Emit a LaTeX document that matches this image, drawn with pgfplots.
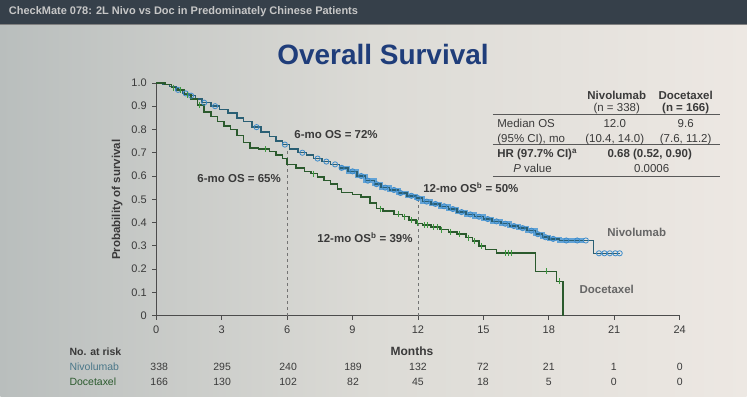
\documentclass[border=0pt]{standalone}
\usepackage{pgfplots}
\pgfplotsset{compat=1.18}
\usepackage{fontspec}
\setmainfont{Liberation Sans}
\definecolor{txt}{HTML}{3A3A3A}
\definecolor{nivo}{HTML}{2A5F74}
\definecolor{nivoc}{HTML}{3B8BCB}
\definecolor{nivob}{HTML}{4E9AD6}
\definecolor{doce}{HTML}{2B5A2D}
\definecolor{docem}{HTML}{3C9A3E}
\definecolor{titleblue}{HTML}{1F3D7A}
\definecolor{barc}{HTML}{36404A}
\definecolor{bgL}{HTML}{B9BEBD}
\definecolor{bgM}{HTML}{DCDBD6}
\definecolor{bgR}{HTML}{EDE8E3}
\newcommand{\fs}[1]{\fontsize{#1}{#1}\selectfont}
\begin{document}
\begin{tikzpicture}[x=1pt,y=1pt]
% background
\shade[left color=bgL, right color=bgR, middle color=bgM] (0,0) rectangle (747,373);
\fill[barc] (0,373) rectangle (747,397);
\draw[black!50, line width=0.8pt] (0,373) -- (747,373);
\node[anchor=west, text=black!22!white, font=\fs{11}\bfseries] at (5,385) {CheckMate 078: 2L Nivo vs Doc in Predominately Chinese Patients};
\node[text=titleblue, font=\fs{28}\bfseries] at (383,342) {Overall Survival};

\begin{axis}[at={(156pt,81pt)}, anchor=origin, scale only axis, width=524pt, height=233pt,
  xmin=0, xmax=24, ymin=0, ymax=1, clip=false,
  axis lines=left, axis line style={-, line width=1.1pt, color=black!70},
  xtick={0,3,6,9,12,15,18,21,24}, xticklabels={0,3,6,9,12,15,18,21,24},
  ytick={0,0.1,0.2,0.3,0.4,0.5,0.6,0.7,0.8,0.9,1.0},
  yticklabels={0,0.1,0.2,0.3,0.4,0.5,0.6,0.7,0.8,0.9,1.0},
  tick align=outside, major tick length=4pt, tick style={black!70, line width=0.8pt},
  tick label style={font=\fs{11}, text=txt},
  xticklabel style={yshift=-3pt},
  yticklabel style={xshift=-2pt},
]
% dashed reference lines
\addplot[dashed, black!55, line width=0.7pt] coordinates {(6,0) (6,0.72)};
\addplot[dashed, black!55, line width=0.7pt] coordinates {(12,0) (12,0.50)};
% Nivolumab band
\addplot[const plot, nivob, line width=4.5pt, opacity=0.85, restrict x to domain=8.2:19.8] table {
x y
8.0 0.65
8.4 0.635
8.8 0.62
9.2 0.60
9.6 0.58
10.0 0.565
10.3 0.55
10.7 0.54
11.1 0.527
11.5 0.515
11.9 0.505
12.2 0.49
12.6 0.48
13.0 0.47
13.4 0.458
13.8 0.445
14.2 0.435
14.6 0.425
15.0 0.415
15.4 0.405
15.8 0.395
16.2 0.385
16.6 0.376
17.0 0.365
17.4 0.35
17.7 0.337
18.0 0.33
18.5 0.323
19.6 0.323
};
% Nivolumab
\addplot[const plot, nivo, line width=1.5pt] table {
x y
0 1.00
0.3 0.994
0.6 0.985
0.9 0.97
1.2 0.955
1.5 0.945
1.8 0.93
2.1 0.915
2.5 0.90
2.9 0.885
3.3 0.87
3.7 0.85
4.0 0.835
4.4 0.81
4.8 0.79
5.2 0.77
5.5 0.75
5.8 0.735
6.1 0.715
6.5 0.70
6.9 0.69
7.2 0.675
7.6 0.662
8.0 0.65
8.4 0.635
8.8 0.62
9.2 0.60
9.6 0.58
10.0 0.565
10.3 0.55
10.7 0.54
11.1 0.527
11.5 0.515
11.9 0.505
12.2 0.49
12.6 0.48
13.0 0.47
13.4 0.458
13.8 0.445
14.2 0.435
14.6 0.425
15.0 0.415
15.4 0.405
15.8 0.395
16.2 0.385
16.6 0.376
17.0 0.365
17.4 0.35
17.7 0.337
18.0 0.33
18.5 0.323
20.05 0.268
21.25 0.268
};
\addplot[only marks, mark=o, mark size=2.6pt, nivoc, mark options={line width=0.8pt}] table {
x y
1.0 0.97
1.35 0.955
1.6 0.945
2.2 0.915
2.7 0.90
4.6 0.81
5.9 0.735
6.7 0.70
7.4 0.675
7.8 0.662
8.2 0.65
8.5 0.635
9.0 0.62
9.4 0.60
9.7 0.58
10.1 0.565
10.5 0.55
10.9 0.54
11.2 0.527
11.7 0.515
12.0 0.505
12.4 0.49
12.8 0.48
13.2 0.47
13.6 0.458
14.0 0.445
14.4 0.435
14.8 0.425
15.2 0.415
15.6 0.405
16.0 0.395
16.4 0.385
16.8 0.376
17.2 0.365
17.5 0.35
17.85 0.337
18.2 0.33
18.8 0.323
19.3 0.323
19.7 0.323
20.3 0.268
20.55 0.268
20.8 0.268
21.05 0.268
21.25 0.268
};
% Docetaxel
\addplot[const plot, doce, line width=1.5pt] table {
x y
0 1.0
0.4 0.994
0.7 0.98
1.0 0.97
1.3 0.95
1.6 0.93
1.9 0.905
2.2 0.875
2.5 0.855
2.8 0.835
3.1 0.815
3.4 0.80
3.7 0.775
4.0 0.745
4.3 0.72
4.7 0.715
5.2 0.705
5.5 0.69
5.8 0.675
6.0 0.65
6.4 0.635
6.8 0.62
7.1 0.61
7.4 0.595
7.7 0.58
8.0 0.565
8.3 0.545
8.5 0.53
9.0 0.52
9.4 0.51
9.8 0.485
10.1 0.46
10.4 0.45
10.9 0.435
11.3 0.425
11.6 0.41
11.9 0.397
12.2 0.39
12.6 0.38
13.0 0.37
13.4 0.36
13.8 0.35
14.2 0.335
14.5 0.32
14.8 0.30
15.1 0.285
15.6 0.27
17.4 0.19
18.35 0.147
18.65 0
};
\addplot[only marks, mark=|, mark size=3pt, docem, mark options={line width=1pt}] table {
x y
0.8 0.98
1.1 0.97
1.45 0.95
2.0 0.905
5.0 0.715
7.2 0.61
10.3 0.46
11.1 0.435
11.4 0.425
11.7 0.41
12.0 0.397
12.3 0.39
12.45 0.39
12.7 0.38
12.9 0.38
13.1 0.37
13.5 0.36
13.9 0.35
14.3 0.335
14.6 0.32
14.9 0.30
16.0 0.27
16.15 0.27
16.3 0.27
17.9 0.19
18.5 0.147
};
\end{axis}

% axis labels
\node[rotate=90, font=\fs{11.5}\bfseries, text=txt] at (117,197) {Probability of survival};
\node[font=\fs{12}\bfseries, text=txt] at (412,45) {Months};

% annotations
\node[font=\fs{11.5}\bfseries, text=txt] at (336,262) {6-mo OS = 72\%};
\node[font=\fs{11.5}\bfseries, text=txt] at (239,218) {6-mo OS = 65\%};
\node[font=\fs{11.5}\bfseries, text=txt] at (471,209) {12-mo OS\textsuperscript{b} = 50\%};
\node[font=\fs{11.5}\bfseries, text=txt] at (365,159) {12-mo OS\textsuperscript{b} = 39\%};
\node[font=\fs{11.5}\bfseries, text=black!60] at (637,164) {Nivolumab};
\node[font=\fs{11.5}\bfseries, text=black!60] at (607,107) {Docetaxel};

% table
\draw[black!65, line width=1.1pt] (493,282) -- (720,282);
\draw[black!65, line width=1.1pt] (493,252) -- (720,252);
\draw[black!65, line width=1.1pt] (493,220) -- (720,220);
\node[font=\fs{11.5}\bfseries, text=txt] at (617,302) {Nivolumab};
\node[font=\fs{11.5}, text=txt] at (617,288) {(n = 338)};
\node[font=\fs{11.5}\bfseries, text=txt] at (686,302) {Docetaxel};
\node[font=\fs{11.5}\bfseries, text=txt] at (686,288) {(n = 166)};
\node[anchor=west, font=\fs{11.5}, text=txt] at (494,273) {Median OS};
\node[anchor=west, font=\fs{11.5}, text=txt] at (494,257) {(95\% CI), mo};
\node[font=\fs{11.5}, text=txt] at (615,273) {12.0};
\node[font=\fs{11.5}, text=txt] at (615,257) {(10.4, 14.0)};
\node[font=\fs{11.5}, text=txt] at (686,273) {9.6};
\node[font=\fs{11.5}, text=txt] at (686,257) {(7.6, 11.2)};
\node[anchor=west, font=\fs{11.5}\bfseries, text=txt] at (494,242) {HR (97.7\% CI)\textsuperscript{a}};
\node[font=\fs{11.5}\bfseries, text=txt] at (650,242) {0.68 (0.52, 0.90)};
\node[anchor=west, font=\fs{11.5}, text=txt] at (510,228) {\textit{P} value};
\node[font=\fs{11.5}, text=txt] at (652,228) {0.0006};

% numbers at risk
\node[anchor=west, font=\fs{10.5}\bfseries, text=txt, inner sep=0pt] at (69,45) {No. at risk};
\node[anchor=west, font=\fs{10.5}, text=nivo!85, inner sep=0pt] at (69,30) {Nivolumab};
\node[anchor=west, font=\fs{10.5}, text=doce, inner sep=0pt] at (69,15) {Docetaxel};
\foreach \xx/\a/\b in {159/338/166, 222/295/130, 288/240/102, 353/189/82, 418/132/45, 483/72/18, 549/21/5, 614/1/0, 680/0/0} {
  \node[font=\fs{10.5}, text=txt] at (\xx,30) {\a};
  \node[font=\fs{10.5}, text=txt] at (\xx,15) {\b};
}
\end{tikzpicture}
\end{document}
